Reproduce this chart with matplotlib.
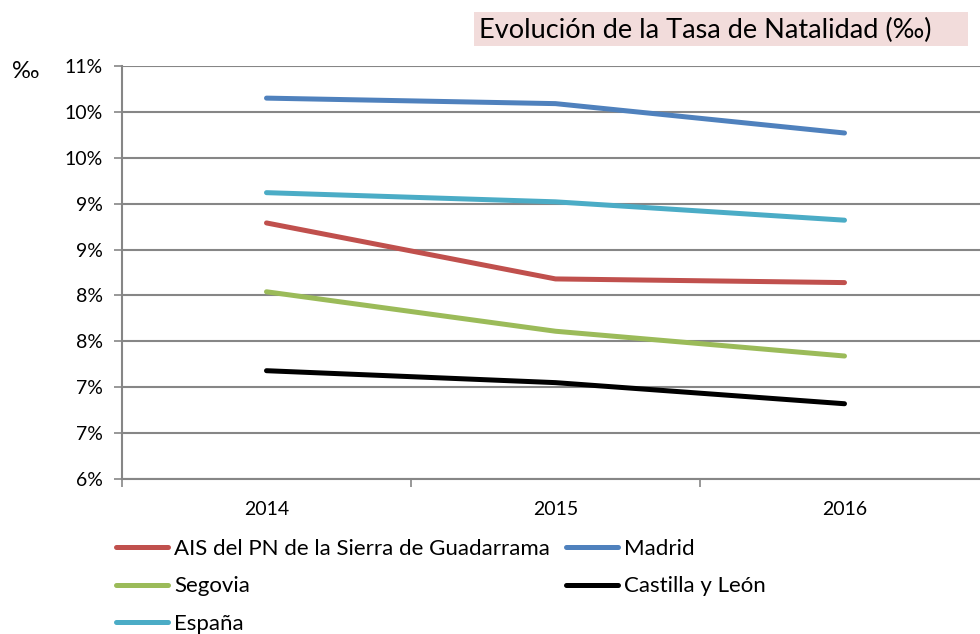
import math
import matplotlib
matplotlib.use("Agg")
import matplotlib.pyplot as plt
from matplotlib.patches import Rectangle
from matplotlib.ticker import FixedLocator, FuncFormatter

plt.rcParams['font.family'] = ['Lato', 'DejaVu Sans']

years = ["2014", "2015", "2016"]
ais = [8.79, 8.18, 8.14]
madrid = [10.15, 10.09, 9.77]
segovia = [8.04, 7.61, 7.34]
cyl = [7.18, 7.05, 6.82]
espana = [9.12, 9.02, 8.82]
y_ticks = [6.0, 6.5, 7.0, 7.5, 8.0, 8.5, 9.0, 9.5, 10.0, 10.5]
title = "Evolución de la Tasa de Natalidad (‰)"

fig = plt.figure(figsize=(9.8, 6.34), dpi=100)
ax = fig.add_axes([122/980, 1-479/634, (989-122)/980, (479-66)/634])

x = list(range(len(years)))
series = [
    ("AIS del PN de la Sierra de Guadarrama", ais, "#C0504D"),
    ("Madrid", madrid, "#4F81BD"),
    ("Segovia", segovia, "#9BBB59"),
    ("Castilla y León", cyl, "#000000"),
    ("España", espana, "#4BACC6"),
]
lines = {}
for name, vals, col in series:
    l, = ax.plot(x, vals, color=col, lw=3.6, solid_capstyle='round', solid_joinstyle='round', zorder=3)
    lines[name] = l

ax.set_xlim(-0.5, 2.5)
ax.set_ylim(6.0, 10.5)
ax.yaxis.set_major_locator(FixedLocator(y_ticks))
ax.yaxis.set_major_formatter(FuncFormatter(lambda v, p: f"{int(math.floor(v + 0.5))}%"))
ax.grid(axis='y', color='#868686', lw=1.5, zorder=1)
ax.set_axisbelow(True)

ax.set_xticks(x)
ax.set_xticklabels(years)
ax.set_xticks([-0.5, 0.5, 1.5, 2.5], minor=True)
ax.tick_params(axis='x', which='major', length=0, pad=16, labelsize=14)
ax.tick_params(axis='x', which='minor', length=6, width=1.2, color='#868686', direction='out')
ax.tick_params(axis='y', length=6, width=1.2, color='#868686', pad=8, labelsize=14)

for s in ['top', 'right']:
    ax.spines[s].set_visible(False)
for s in ['left', 'bottom']:
    ax.spines[s].set_color('#868686')
    ax.spines[s].set_linewidth(1.5)

fig.text(12/980, 1-72/634, "‰", fontsize=17, va='center', ha='left')

fig.patches.append(Rectangle((474/980, 1-46/634), (968-474)/980, 34/634,
                             transform=fig.transFigure, facecolor='#F2DCDB',
                             edgecolor='none', zorder=0))
fig.text(479/980, 1-30/634, title, fontsize=19.5, va='center', ha='left', zorder=2)

col1 = ["AIS del PN de la Sierra de Guadarrama", "Segovia", "España"]
col2 = ["Madrid", "Castilla y León"]
kw = dict(frameon=False, loc='upper left', borderpad=0, borderaxespad=0,
          handlelength=2.35, handletextpad=0.27, labelspacing=0.78, fontsize=16)
leg1 = fig.legend([lines[n] for n in col1], col1, bbox_to_anchor=(116/980, 1-539/634), **kw)
leg2 = fig.legend([lines[n] for n in col2], col2, bbox_to_anchor=(566/980, 1-539/634), **kw)

fig.savefig("out.png", dpi=100)
